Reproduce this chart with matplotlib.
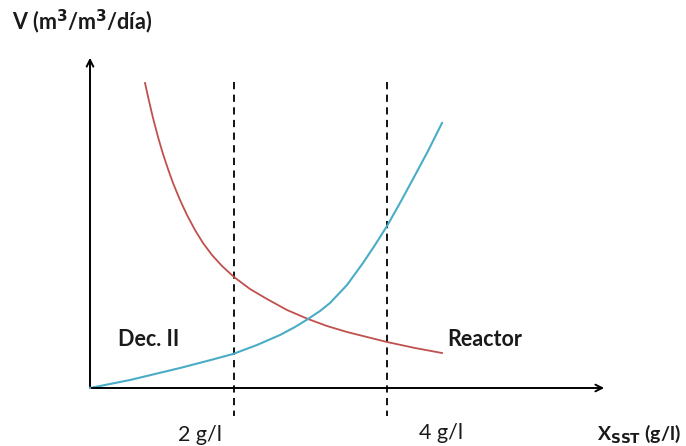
import numpy as np
import matplotlib.pyplot as plt

# curve points (pixel-like units, y grows downward)
reactor_x = [145, 149, 153, 158, 163, 168, 173, 180, 187, 195, 203, 212, 222, 234,
             250, 267, 287, 308, 327, 347, 367, 387, 415, 442]
reactor_y = [83, 101, 118, 137, 154, 169, 183, 200, 215, 230, 243, 255, 266, 277,
             289, 299, 310, 319, 326, 332, 337, 342, 348, 353]
dec_x = [90, 110, 130, 155, 180, 207, 233, 257, 280, 295, 308, 320, 330, 347,
         363, 375, 387, 400, 413, 428, 442]
dec_y = [388, 384, 380, 374, 368, 361, 354, 345, 335, 327, 319, 311, 303, 285,
         263, 245, 226, 203, 179, 151, 123]
dash_x = [234, 387]
dash_labels = ['2 g/l', '4 g/l']

RED = '#c0504d'
BLUE = '#4bacc6'
TXT = '#1a1a1a'

fig = plt.figure(figsize=(6.86, 4.46), dpi=100)
ax = fig.add_axes([0, 0, 1, 1])
ax.set_xlim(0, 686)
ax.set_ylim(446, 0)
ax.axis('off')

# axes with arrows
ax.annotate('', xy=(90, 55), xytext=(90, 389),
            arrowprops=dict(arrowstyle='->', color='black', lw=1.4, mutation_scale=12))
ax.annotate('', xy=(607, 388), xytext=(89, 388),
            arrowprops=dict(arrowstyle='->', color='black', lw=1.4, mutation_scale=12))

# dashed verticals
for x in dash_x:
    ax.plot([x, x], [82, 416], color='black', lw=1.3, ls=(0, (4, 3)))

ax.plot(reactor_x, reactor_y, color=RED, lw=1.3, solid_joinstyle='round')
ax.plot(dec_x, dec_y, color=BLUE, lw=1.5, solid_joinstyle='round')

fam = ['Lato', 'DejaVu Sans']
fs = 15.5
ax.text(12, 22, 'V (m$^\\mathbf{3}$/m$^\\mathbf{3}$/día)', fontsize=fs, fontweight='bold',
        color=TXT, family=fam, va='center', ha='left')
ax.text(118, 340, 'Dec. II', fontsize=fs, fontweight='bold', color=TXT, family=fam, va='center')
ax.text(447, 340, 'Reactor', fontsize=fs, fontweight='bold', color=TXT, family=fam, va='center')
ax.text(200, 435, dash_labels[0], fontsize=fs, color=TXT, family=fam, va='center', ha='center')
ax.text(441, 433, dash_labels[1], fontsize=fs, color=TXT, family=fam, va='center', ha='center')
ax.text(681, 434, 'X$_{\\mathbf{SST}}$ (g/l)', fontsize=14, fontweight='bold', color=TXT,
        family=fam, va='center', ha='right')

fig.savefig('out.png', dpi=100)
